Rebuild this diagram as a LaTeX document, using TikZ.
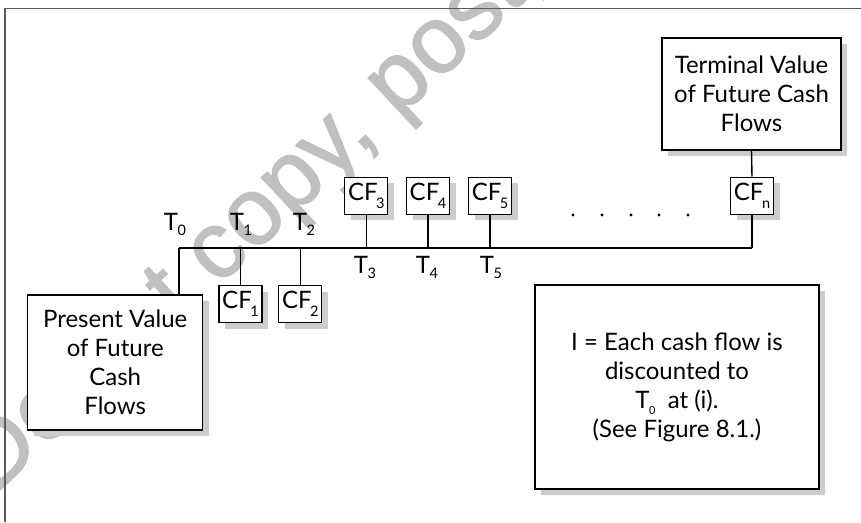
\documentclass[tikz,border=0pt]{standalone}
\usepackage{fontspec}
\setmainfont{Lato}
\newfontfamily\wmfont[FakeBold=1.5]{Liberation Sans}
\usetikzlibrary{shadows}

\definecolor{wmgray}{RGB}{192,192,192}
\definecolor{shadowgray}{RGB}{205,205,205}
\definecolor{framegray}{RGB}{90,90,90}

% lowered index for T and CF labels
\newcommand\lowidx[2]{\raisebox{-#1}{\fontsize{14.5}{14.5}\selectfont #2}}
\newcommand\cflabel[1]{CF\kern-1.5pt\lowidx{8pt}{#1}}
\newcommand\tlabel[1]{T\kern-0.5pt\lowidx{5pt}{#1}}

\begin{document}
\begin{tikzpicture}[x=1pt, y=-1pt,
  every node/.style={font=\fontsize{24}{29}\selectfont},
  shadowbox/.style={draw=black, line width=1.3pt, fill=white, rectangle,
    inner sep=0pt, align=center,
    general shadow={shadow xshift=6pt, shadow yshift=-6pt, fill=shadowgray}},
  cfbox/.style={shadowbox, minimum width=43pt, minimum height=37pt},
  tick/.style={line width=1.4pt},
  axis/.style={line width=2pt},
  tlab/.style={anchor=base, inner sep=0pt}
]
\useasboundingbox (0,0) rectangle (861,522);
\clip (0,0) rectangle (861,522);

% watermark behind the drawing
\node[anchor=base west, rotate=43, inner sep=0pt, text=wmgray,
  font=\wmfont\fontsize{95}{95}\selectfont] (wm) at (-6.4,496)
  {Do not copy, post, or distribute};

% page frame
\draw[framegray, line width=1.8pt] (5,522) -- (5,8.5) -- (861,8.5);

% boxes
\node[shadowbox, minimum width=175pt, minimum height=135pt] (pv) at (115.2,362.5)
  {Present Value\\of Future\\Cash\\Flows};
\node[shadowbox, minimum width=179pt, minimum height=112pt] (tv) at (751.5,94)
  {Terminal Value\\of Future Cash\\Flows};
\node[shadowbox, minimum width=284pt, minimum height=204pt] (note) at (677,387)
  {I = Each cash flow is\\discounted to\\T\kern-0.5pt\raisebox{-6pt}{\fontsize{11}{11}\selectfont 0}\ \ at (i).\\(See Figure 8.1.)};

\node[cfbox] (cf1) at (240.5,304) {\cflabel{1}};
\node[cfbox] (cf2) at (300.3,304) {\cflabel{2}};
\node[cfbox] (cf3) at (366.3,195.7) {\cflabel{3}};
\node[cfbox] (cf4) at (428,195.7) {\cflabel{4}};
\node[cfbox] (cf5) at (490,195.7) {\cflabel{5}};
\node[cfbox] (cfn) at (752,195.7) {\cflabel{n}};

% time line
\coordinate (t0) at (179,248);
\coordinate (tn) at (752,248);
\draw[axis] (t0) -- (tn);
\draw[tick] (t0) -- (t0 |- pv.north);
\draw[tick] (cf1.north |- t0) -- (cf1.north);
\draw[tick] (cf2.north |- t0) -- (cf2.north);
\draw[tick] (cf3.south |- t0) -- (cf3.south);
\draw[tick] (cf4.south |- t0) -- (cf4.south);
\draw[tick] (cf5.south |- t0) -- (cf5.south);
\draw[tick] (tn) -- (cfn.south);
\draw[tick] (cfn.north) -- (tv.south);

% period labels
\node[tlab] (lt0) at (175,230) {\tlabel{0}};
\node[tlab] (lt1) at (241,230) {\tlabel{1}};
\node[tlab] (lt2) at (304,230) {\tlabel{2}};
\node[tlab] (lt3) at (365,273) {\tlabel{3}};
\node[tlab] (lt4) at (427,273) {\tlabel{4}};
\node[tlab] (lt5) at (491,273) {\tlabel{5}};

% ellipsis dots
\foreach \i/\x in {1/573,2/602,3/631,4/659,5/688}
  \fill (\x,215) circle (1.6pt) coordinate (dot\i);
\end{tikzpicture}
\end{document}
